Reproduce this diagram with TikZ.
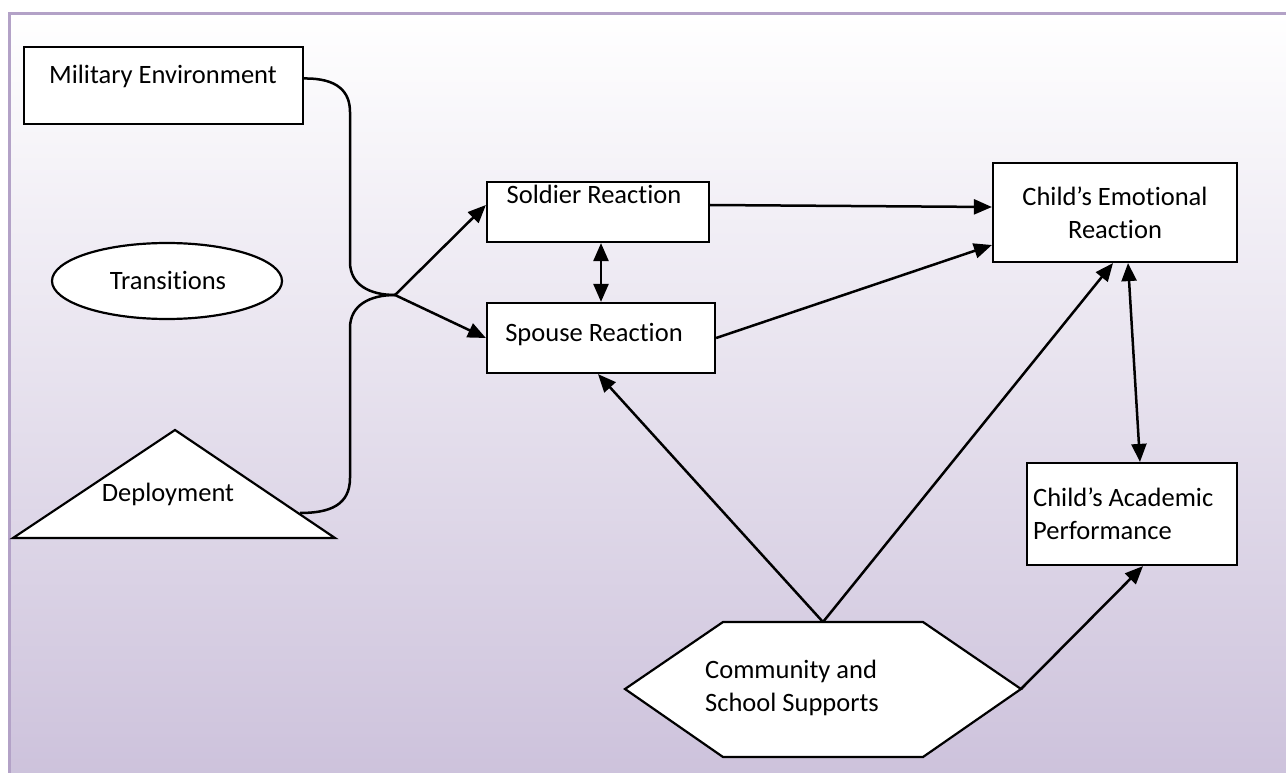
\documentclass[tikz,border=0pt]{standalone}
\usepackage{fontspec}
\setmainfont[Ligatures=NoCommon]{Carlito}
\usetikzlibrary{arrows.meta,shapes.geometric,calc}
\definecolor{lav}{RGB}{204,193,219}
\definecolor{framec}{RGB}{179,162,199}
\begin{document}
\begin{tikzpicture}[x=1pt,y=-1pt,
  box/.style={draw=black,line width=2.2pt,fill=white,inner sep=0pt},
  txt/.style={font=\fontsize{26.5}{33}\selectfont,inner sep=0pt},
  conn/.style={line width=2.5pt},
  arr/.style={conn,-{Triangle[length=18pt,width=15pt]}},
  darr/.style={conn,{Triangle[length=18pt,width=15pt]}-{Triangle[length=18pt,width=15pt]}}]
\useasboundingbox (0,0) rectangle (1286,773);
\clip (0,0) rectangle (1286,773);
\shade[top color=white,bottom color=lav] (10,13) rectangle (1300,790);
\draw[framec,line width=3pt] (9.5,790) -- (9.5,13.5) -- (1300,13.5);

% shapes
\node[box,minimum width=279,minimum height=77] (mil) at (163.5,85.5) {};
\node[txt,anchor=base] (milT) at (163,84) {Military Environment};

\node[box,ellipse,minimum width=230,minimum height=76] (tra) at (167,281) {};
\node[txt,anchor=base] (traT) at (168,289) {Transitions};

\draw[box] (175,430) coordinate (dpA) -- (335,538) coordinate (dpR0) -- (13,538) -- cycle;
\coordinate (dpR) at (300,513);
\node[txt,anchor=base] (depT) at (168,501) {Deployment};

\node[box,minimum width=222,minimum height=60] (sol) at (598,212) {};
\node[txt,anchor=base] (solT) at (594,204) {Soldier Reaction};

\node[box,minimum width=228,minimum height=70] (spo) at (601,338) {};
\node[txt,anchor=base] (spoT) at (594,341) {Spouse Reaction};

\node[box,minimum width=244,minimum height=99] (emo) at (1115,212.5) {};
\node[txt,align=center] (emoT) at (1115,213) {Child’s Emotional\\Reaction};

\node[box,minimum width=210,minimum height=102] (aca) at (1132,514) {};
\node[txt,align=left,anchor=west] (acaT) at (1033,514) {Child’s Academic\\Performance};

\draw[box] (723,622) coordinate (hT0) -- (923,622) -- (1021,689) coordinate (hR) -- (923,757) -- (723,757) -- (625,689) -- cycle;
\coordinate (hT) at (823,622);
\node[txt,align=left,anchor=west] (hexT) at (705,688) {Community and\\School Supports};

% connectors
\coordinate (j) at (395,295);
\draw[conn] ([yshift=7pt]mil.east) .. controls (338,78) and (350,92) .. (350,112) -- (350,262) .. controls (350,285) and (370,295) .. (j);
\draw[conn] (j) .. controls (370,295) and (350,305) .. (350,328) -- (350,478) .. controls (350,505) and (330,513) .. (dpR);
\draw[arr] (j) -- ([yshift=7pt]sol.west);
\draw[arr] (j) -- (spo.west);
\draw[arr] ([yshift=7pt]sol.east) -- ([yshift=5.5pt]emo.west);
\draw[arr] (spo.east) -- ([yshift=-32.5pt]emo.west);
\draw[darr] ([xshift=3pt]sol.south) -- (spo.north);
\draw[arr] (hT) -- ([xshift=-3pt]spo.south);
\draw[arr] (hT) -- ([xshift=-2pt]emo.south);
\draw[darr] ([xshift=13pt]emo.south) -- ([xshift=8pt]aca.north);
\draw[arr] (hR) -- ([xshift=11pt]aca.south);
\end{tikzpicture}
\end{document}
